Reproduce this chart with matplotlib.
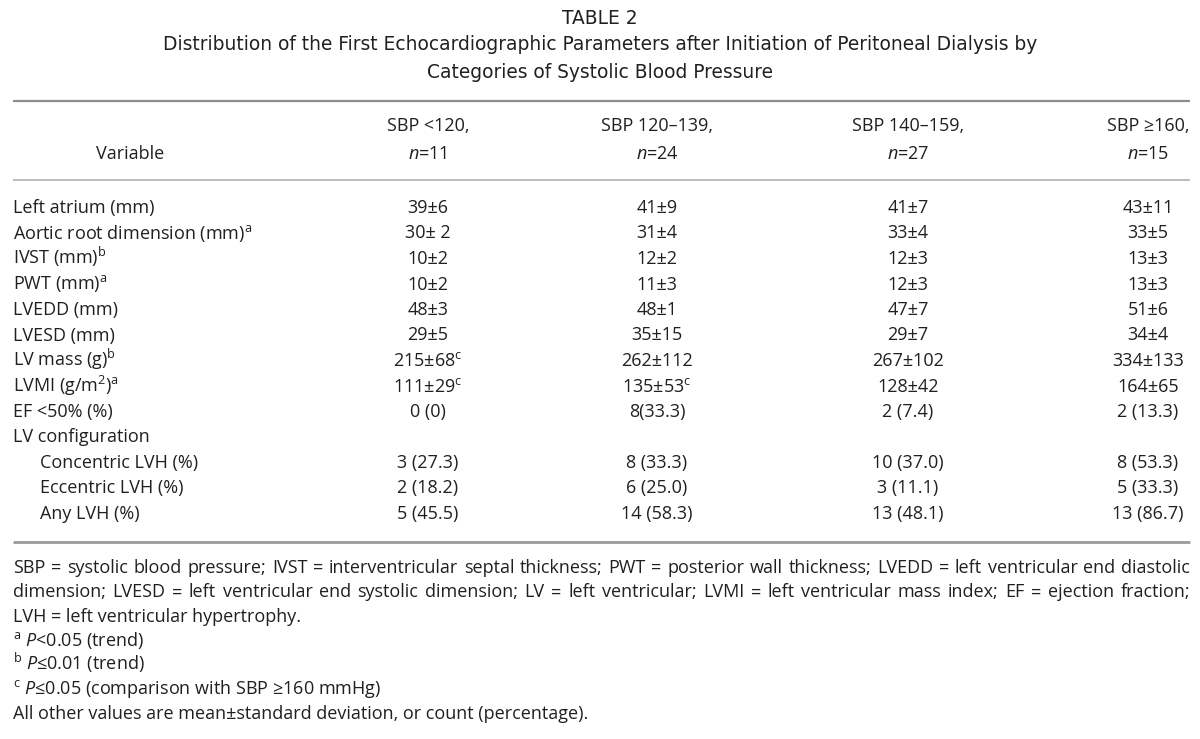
import matplotlib
matplotlib.use("Agg")
import matplotlib.pyplot as plt

BODY_FONT = "Open Sans"
TITLE_FONT = "Liberation Sans Narrow"
INK = "#231f20"

plt.rcParams["font.family"] = [BODY_FONT, "DejaVu Sans"]
plt.rcParams["mathtext.fontset"] = "custom"
plt.rcParams["mathtext.rm"] = BODY_FONT
plt.rcParams["mathtext.it"] = BODY_FONT + ":italic"

# ---- table content ----
TABLE_LABEL = "TABLE 2"
TITLE_LINES = [
    "Distribution of the First Echocardiographic Parameters after Initiation of Peritoneal Dialysis by",
    "Categories of Systolic Blood Pressure",
]
GROUPS = ["SBP <120,", "SBP 120–139,", "SBP 140–159,", "SBP ≥160,"]
GROUP_N = ["11", "24", "27", "15"]

VARIABLES = [
    "Left atrium (mm)", "Aortic root dimension (mm)", "IVST (mm)", "PWT (mm)",
    "LVEDD (mm)", "LVESD (mm)", "LV mass (g)", "LVMI (g/m$^{\\mathrm{2}}$)",
    "EF <50% (%)", "LV configuration", "Concentric LVH (%)",
    "Eccentric LVH (%)", "Any LVH (%)",
]
VARIABLE_MARKS = ["", "a", "b", "a", "", "", "b", "a", "", "", "", "", ""]
INDENTED = [False] * 10 + [True] * 3

SBP_LT120 = ["39±6", "30± 2", "10±2", "10±2", "48±3", "29±5", "215±68", "111±29",
             "0 (0)", "", "3 (27.3)", "2 (18.2)", "5 (45.5)"]
SBP_LT120_MARKS = ["", "", "", "", "", "", "c", "c", "", "", "", "", ""]
SBP_120_139 = ["41±9", "31±4", "12±2", "11±3", "48±1", "35±15", "262±112", "135±53",
               "8(33.3)", "", "8 (33.3)", "6 (25.0)", "14 (58.3)"]
SBP_120_139_MARKS = ["", "", "", "", "", "", "", "c", "", "", "", "", ""]
SBP_140_159 = ["41±7", "33±4", "12±3", "12±3", "47±7", "29±7", "267±102", "128±42",
               "2 (7.4)", "", "10 (37.0)", "3 (11.1)", "13 (48.1)"]
SBP_GE160 = ["43±11", "33±5", "13±3", "13±3", "51±6", "34±4", "334±133", "164±65",
             "2 (13.3)", "", "8 (53.3)", "5 (33.3)", "13 (86.7)"]

ABBREVIATION_LINES = [
    "SBP = systolic blood pressure; IVST = interventricular septal thickness; PWT = posterior wall thickness; LVEDD = left ventricular end diastolic",
    "dimension; LVESD = left ventricular end systolic dimension; LV = left ventricular; LVMI = left ventricular mass index; EF = ejection fraction;",
    "LVH = left ventricular hypertrophy.",
]
FOOTNOTE_MARKS = ["a", "b", "c"]
FOOTNOTE_TEXT = ["<0.05 (trend)", "≤0.01 (trend)", "≤0.05 (comparison with SBP ≥160 mmHg)"]
CLOSING_NOTE = "All other values are mean±standard deviation, or count (percentage)."

# ---- layout (pixels) ----
LEFT, RIGHT = 13, 1190
COL_X = [428, 657, 908, 1148]
VAR_HEAD_X = 130
INDENT_X = 40
ROW0, ROW_STEP = 213, 25.5
NOTE0, NOTE_STEP = 573, 24.3

fig = plt.figure(figsize=(12, 7.39), dpi=100)
ax = fig.add_axes([0, 0, 1, 1])
ax.set_xlim(0, 1200)
ax.set_ylim(739, 0)
ax.axis("off")
renderer = fig.canvas.get_renderer()


def width_of(t):
    return t.get_window_extent(renderer).width


def fit_size(text, family, target_px):
    probe = ax.text(0, 0, text, family=family, fontsize=10)
    w = width_of(probe)
    probe.remove()
    return 10 * target_px / w


body_size = fit_size("Left atrium (mm)", BODY_FONT, 142)
title_size = fit_size(TITLE_LINES[0], TITLE_FONT, 877)

# title block
ax.text(600, 18, TABLE_LABEL, family=TITLE_FONT, fontsize=title_size,
        ha="center", va="center", color=INK)
for i, line in enumerate(TITLE_LINES):
    ax.text(600, 45 + 28 * i, line, family=TITLE_FONT, fontsize=title_size,
            ha="center", va="center", color=INK)

# rules
ax.plot([LEFT, RIGHT], [101, 101], color="#8c8c8c", lw=1.6, solid_capstyle="butt")
ax.plot([LEFT, RIGHT], [180, 180], color="#b0b0b0", lw=1.2, solid_capstyle="butt")
ax.plot([LEFT, RIGHT], [542, 542], color="#9a9a9a", lw=2.0, solid_capstyle="butt")

txt = dict(fontsize=body_size, color=INK, va="baseline")

# header
ax.text(VAR_HEAD_X, 159, "Variable", ha="center", **txt)
for x, g, n in zip(COL_X, GROUPS, GROUP_N):
    ax.text(x, 131, g, ha="center", **txt)
    ax.text(x, 159, "$\\mathit{n}$=" + n, ha="center", **txt)

# body
columns = [
    (SBP_LT120, SBP_LT120_MARKS),
    (SBP_120_139, SBP_120_139_MARKS),
    (SBP_140_159, [""] * len(SBP_140_159)),
    (SBP_GE160, [""] * len(SBP_GE160)),
]
for i, (var, mark, ind) in enumerate(zip(VARIABLES, VARIABLE_MARKS, INDENTED)):
    y = ROW0 + ROW_STEP * i
    label = var + (f"$^{{\\mathrm{{{mark}}}}}$" if mark else "")
    ax.text(INDENT_X if ind else LEFT, y, label, ha="left", **txt)
    for x, (vals, marks) in zip(COL_X, columns):
        if not vals[i]:
            continue
        cell = vals[i] + (f"$^{{\\mathrm{{{marks[i]}}}}}$" if marks[i] else "")
        ax.text(x, y, cell, ha="center", **txt)

# abbreviations, justified like the print layout
for j, line in enumerate(ABBREVIATION_LINES):
    y = NOTE0 + NOTE_STEP * j
    words = line.split(" ")
    if j == len(ABBREVIATION_LINES) - 1:
        ax.text(LEFT, y, line, ha="left", **txt)
        continue
    arts = [ax.text(0, y, w, ha="left", **txt) for w in words]
    widths = [width_of(a) for a in arts]
    gap = (RIGHT - LEFT - sum(widths)) / (len(words) - 1)
    x = LEFT
    for a, w in zip(arts, widths):
        a.set_x(x)
        x += w + gap

# significance footnotes
for k, (m, note) in enumerate(zip(FOOTNOTE_MARKS, FOOTNOTE_TEXT)):
    y = NOTE0 + NOTE_STEP * (3 + k)
    ax.text(LEFT, y, f"$^{{\\mathrm{{{m}}}}}$ $\\mathit{{P}}$" + note, ha="left", **txt)

ax.text(LEFT, NOTE0 + NOTE_STEP * 6, CLOSING_NOTE, ha="left", **txt)

fig.savefig("out.png", dpi=100, facecolor="white")
